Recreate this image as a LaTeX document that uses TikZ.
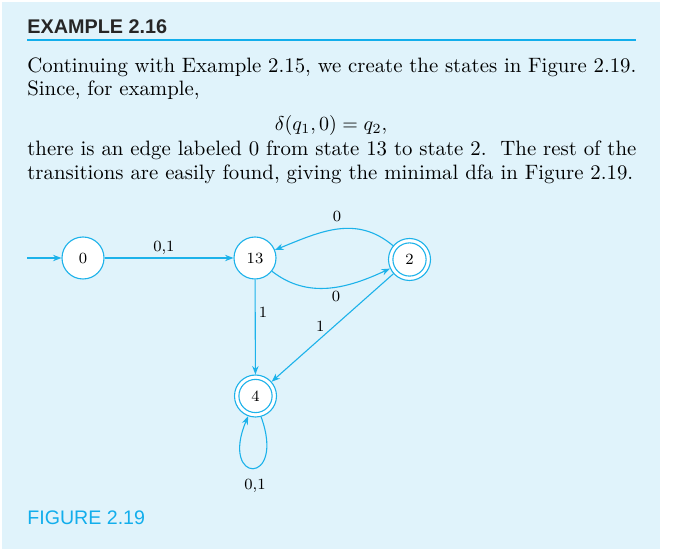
\documentclass[tikz,border=0pt]{standalone}
\usepackage{fontspec}
\usepackage{amsmath}
\usetikzlibrary{arrows.meta}
\newfontfamily\headfont{Liberation Sans}
\definecolor{bgblue}{HTML}{E0F3FB}
\definecolor{cyanline}{HTML}{1CB2EA}
\definecolor{figcyan}{HTML}{12AEEC}
\tikzset{
  stateline/.style={draw=cyanline, line width=0.55pt},
  state/.style={circle, stateline, fill=white, minimum size=21pt, inner sep=0pt, text=black, font=\fontsize{7.8}{9}\selectfont},
  edge/.style={cyanline, line width=0.55pt, -{Stealth[length=4.2pt,width=3.2pt]}},
  elabel/.style={text=black, font=\fontsize{7.8}{9}\selectfont, inner sep=1.5pt},
  bodytext/.style={anchor=base west, inner sep=0pt, text width=304.5pt, align=justify, font=\fontsize{10.4}{11.6}\selectfont}
}
\begin{document}
\begin{tikzpicture}[x=0.5pt,y=-0.5pt]
\useasboundingbox (0,0) rectangle (674,549);
\fill[bgblue] (2,2) rectangle (660,549);
% heading
\node[anchor=base west, inner sep=0pt, font=\headfont\bfseries\fontsize{9.9}{11}\selectfont, text=black!85] (head) at (27,33.5) {EXAMPLE 2.16};
\draw[figcyan, line width=1pt] (27,40) -- (636,40);
% text
\node[bodytext] (p1) at (27,72.5) {Continuing with Example 2.15, we create the states in Figure 2.19.\linebreak Since, for example,};
\node[anchor=base, inner sep=0pt, font=\fontsize{10.4}{11.6}\selectfont] (eq) at (331,130.5) {$\delta(q_1,0)=q_2,$};
\node[bodytext] (p2) at (27,156) {there is an edge labeled 0 from state 13 to state 2.\ \ The rest of the\linebreak transitions are easily found, giving the minimal dfa in Figure 2.19.};
% diagram
\node[state] (s0) at (83,258) {0};
\node[state] (s13) at (255,258) {13};
\node[state] (s2) at (409.5,259.5) {2};
\node[state] (s4) at (255.5,396) {4};
\draw[stateline] (s2.center) circle[radius=8.3pt];
\draw[stateline] (s4.center) circle[radius=8.3pt];
\coordinate (start) at (27,258);
\draw[edge] (start) -- (s0);
\draw[edge] (s0) -- node[elabel, above, pos=0.46] {0,1} (s13);
\draw[edge] (s13) to[out=-38, in=-155, looseness=1.0] node[elabel, below=0.5pt, pos=0.56] {0} (s2);
\draw[edge] (s2) to[out=140, in=22, looseness=1.05] node[elabel, above=2pt] {0} (s13);
\draw[edge] (s13) -- node[elabel, right, pos=0.35] {1} (s4);
\draw[edge] (s2) -- node[elabel, above=1.5pt, pos=0.6] {1} (s4);
\draw[edge] (s4.-75) .. controls +(-70:37pt) and +(-113:37pt) .. (s4.-110);
\node[elabel] (l4) at (255,486) {0,1};
% figure label
\node[anchor=base west, inner sep=0pt, font=\headfont\fontsize{9.8}{11}\selectfont, text=figcyan] (fig) at (27,524.5) {FIGURE 2.19};
\end{tikzpicture}
\end{document}
